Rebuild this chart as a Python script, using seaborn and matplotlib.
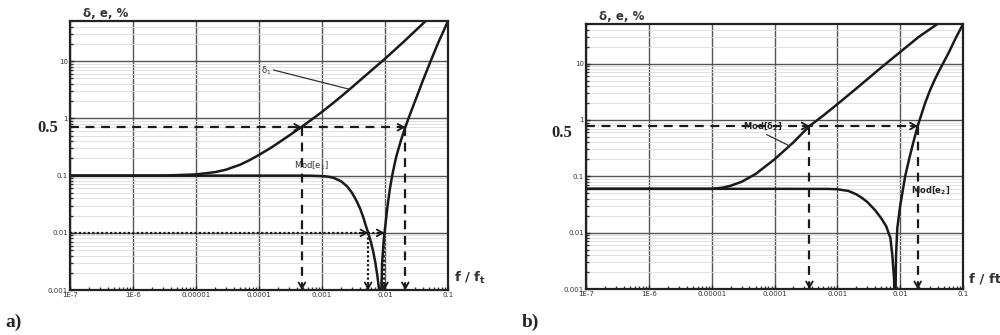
import matplotlib
matplotlib.use("Agg")
import matplotlib.pyplot as plt
import seaborn as sns
import pandas as pd

# ---- data ----------------------------------------------------------------
# panel a)
f_d1 = [1e-7, 1e-6, 3e-6, 1e-5, 2e-5, 3e-5, 5e-5, 7e-5, 1e-4, 1.5e-4, 2e-4,
        3e-4, 5e-4, 7e-4, 1e-3, 1.5e-3, 2e-3, 3e-3, 5e-3, 1e-2, 2e-2, 4.4e-2]
d1 = [0.1, 0.1, 0.1, 0.105, 0.115, 0.127, 0.155, 0.185, 0.23, 0.3, 0.37,
      0.5, 0.74, 0.97, 1.3, 1.85, 2.4, 3.5, 5.7, 11, 22, 50]

f_e1 = [1e-7, 1e-5, 1e-4, 5e-4, 7e-4, 1e-3, 1.25e-3, 1.5e-3, 2e-3, 2.5e-3,
        3e-3, 3.5e-3, 4e-3, 4.5e-3, 5e-3, 5.5e-3, 6e-3, 6.5e-3, 7e-3, 7.5e-3,
        8e-3, 8.45e-3, 9e-3, 9.5e-3, 1e-2, 1.1e-2, 1.2e-2, 1.3e-2, 1.5e-2,
        1.8e-2, 2.1e-2, 2.4e-2, 3e-2, 4e-2, 5.3e-2, 7e-2, 1e-1]
e1 = [0.1, 0.1, 0.1, 0.1, 0.0995, 0.098, 0.096, 0.092, 0.08, 0.065,
      0.05, 0.037, 0.027, 0.019, 0.013, 0.0095, 0.0068, 0.0047, 0.0031, 0.0019,
      0.0011, 0.0002, 0.003, 0.007, 0.012, 0.03, 0.06, 0.1, 0.21,
      0.42, 0.7, 1.05, 2.0, 4.6, 10, 21, 50]

# panel b)
f_d2 = [1e-7, 1e-6, 1e-5, 1.5e-5, 2e-5, 3e-5, 5e-5, 1e-4, 2e-4, 3.6e-4,
        6e-4, 1e-3, 2e-3, 5e-3, 1e-2, 2e-2, 3.9e-2]
d2 = [0.06, 0.06, 0.06, 0.063, 0.068, 0.08, 0.11, 0.2, 0.4, 0.78,
      1.2, 1.9, 3.6, 8.5, 16, 30, 50]

f_e2 = [1e-7, 1e-5, 1e-4, 7e-4, 1e-3, 1.5e-3, 2e-3, 2.5e-3, 3e-3, 4e-3, 5e-3,
        6e-3, 7e-3, 7.5e-3, 8e-3, 8.3e-3, 8.6e-3, 9e-3, 1e-2, 1.05e-2,
        1.2e-2, 1.4e-2, 1.6e-2, 1.9e-2, 2.5e-2, 3e-2, 3.5e-2, 4e-2, 4.8e-2,
        6e-2, 7.5e-2, 1e-1]
e2 = [0.06, 0.06, 0.06, 0.0598, 0.059, 0.055, 0.048, 0.041, 0.035, 0.025, 0.018,
      0.013, 0.008, 0.004, 0.0015, 0.0002, 0.004, 0.012, 0.03, 0.041,
      0.1, 0.21, 0.38, 0.78, 2.0, 3.4, 5.0, 6.8, 10,
      16, 27, 50]

# levels and crossings for the arrows
lvl_a, cross_a = 0.7, [4.8e-4, 2.1e-2]
lvl_a2, cross_a2 = 0.01, [5.4e-3, 9.8e-3]
lvl_b, cross_b = 0.78, [3.6e-4, 1.9e-2]

x_ticks = [1e-7, 1e-6, 1e-5, 1e-4, 1e-3, 1e-2, 1e-1]
x_labels = ["1E-7", "1E-6", "0.00001", "0.0001", "0.001", "0.01", "0.1"]
y_ticks = [0.001, 0.01, 0.1, 1, 10]
y_labels = ["0.001", "0.01", "0.1", "1", "10"]

sns.set_theme(style="white")
plt.rcParams["font.family"] = ["DejaVu Sans"]

fig = plt.figure(figsize=(10, 3.35), dpi=100)
ax_a = fig.add_axes([0.070, 0.134, 0.378, 0.803])
ax_b = fig.add_axes([0.586, 0.137, 0.377, 0.791])

INK = "#1a1a1a"


def curve(ax, f, v):
    df = pd.DataFrame({"f": f, "v": v})
    sns.lineplot(data=df, x="f", y="v", ax=ax, color=INK, lw=1.8,
                 sort=False, estimator=None)


def setup(ax, xlab):
    ax.set_xscale("log")
    ax.set_yscale("log")
    ax.set_xlim(1e-7, 1e-1)
    ax.set_ylim(1e-3, 50)
    ax.set_xticks(x_ticks)
    ax.set_xticklabels(x_labels, fontsize=5, color="#333")
    ax.set_yticks(y_ticks)
    ax.set_yticklabels(y_labels, fontsize=5, color="#333")
    ax.tick_params(which="major", direction="in", length=3, width=1, pad=1.5,
                   bottom=True, left=True)
    ax.tick_params(which="minor", direction="in", length=2.5, width=1,
                   bottom=True, left=True, color="#333")
    ax.grid(which="major", color="#555", lw=1.0)
    ax.yaxis.grid(which="minor", color="#dcdcdc", lw=0.6)
    for s in ax.spines.values():
        s.set_color("#222")
        s.set_linewidth(1.6)
    ax.set_xlabel("")
    ax.set_ylabel("")
    ax.text(0.035, 1.03, "δ, e, %", transform=ax.transAxes, fontsize=8.5,
            fontweight="bold", color="#333", ha="left", va="center")
    ax.text(1.015, 0.015, xlab, transform=ax.transAxes, fontsize=9.5,
            fontweight="bold", color="#333", ha="left", va="bottom")


def head(ax, xy, direction, lw=1.3):
    off = {"right": (-5, 0), "down": (0, 5)}[direction]
    ax.annotate("", xy=xy, xytext=off, textcoords="offset points",
                arrowprops=dict(arrowstyle="->,head_length=0.35,head_width=0.2",
                                lw=lw, color="k", shrinkA=0, shrinkB=0))


def arrows(ax, lvl, xs, ls, lw=1.6):
    ax.plot([1e-7, xs[-1]], [lvl, lvl], ls=ls, color="k", lw=lw)
    for x in xs:
        head(ax, (x, lvl), "right")
        ax.plot([x, x], [lvl, 1e-3], ls=ls, color="k", lw=lw)
        head(ax, (x, 1e-3), "down")


# ---- a) -------------------------------------------------------------------
curve(ax_a, f_d1, d1)
curve(ax_a, f_e1, e1)
setup(ax_a, "f / f$_\\mathregular{t}$")
arrows(ax_a, lvl_a, cross_a, (0, (4, 3)))
arrows(ax_a, lvl_a2, cross_a2, (0, (1, 1)))
ax_a.text(1.3e-4, 6.7, "δ$_\\mathregular{1}$", fontsize=6, ha="center", va="center", color="#333")
ax_a.plot([1.7e-4, 2.8e-3], [7.0, 3.2], color="#333", lw=0.9)
ax_a.text(6.9e-4, 0.15, "Mod[e$_\\mathregular{1}$]", fontsize=6, ha="center", va="center", color="#333")

# ---- b) -------------------------------------------------------------------
curve(ax_b, f_d2, d2)
curve(ax_b, f_e2, e2)
setup(ax_b, "f / ft")
arrows(ax_b, lvl_b, cross_b, (0, (4, 3)))
ax_b.text(6.4e-5, 0.78, "Mod[δ$_\\mathregular{2}$]", fontsize=6, ha="center", va="center",
          color="#222", fontweight="bold")
ax_b.plot([7.5e-5, 1.7e-4], [0.55, 0.35], color="#333", lw=0.9)
ax_b.text(3.0e-2, 0.057, "Mod[e$_\\mathregular{2}$]", fontsize=6, ha="center", va="center",
          color="#222", fontweight="bold")

# ---- outer labels ---------------------------------------------------------
serif = ["Liberation Serif", "DejaVu Serif"]
fig.text(0.048, 1 - 128 / 335, "0.5", fontsize=12, fontweight="bold",
         family=serif, ha="center", va="center")
fig.text(0.562, 1 - 133 / 335, "0.5", fontsize=12, fontweight="bold",
         family=serif, ha="center", va="center")
fig.text(0.005, 1 - 322 / 335, "a)", fontsize=14, fontweight="bold",
         family=serif, ha="left", va="center")
fig.text(0.522, 1 - 322 / 335, "b)", fontsize=14, fontweight="bold",
         family=serif, ha="left", va="center")

fig.savefig("out.png", dpi=100)
